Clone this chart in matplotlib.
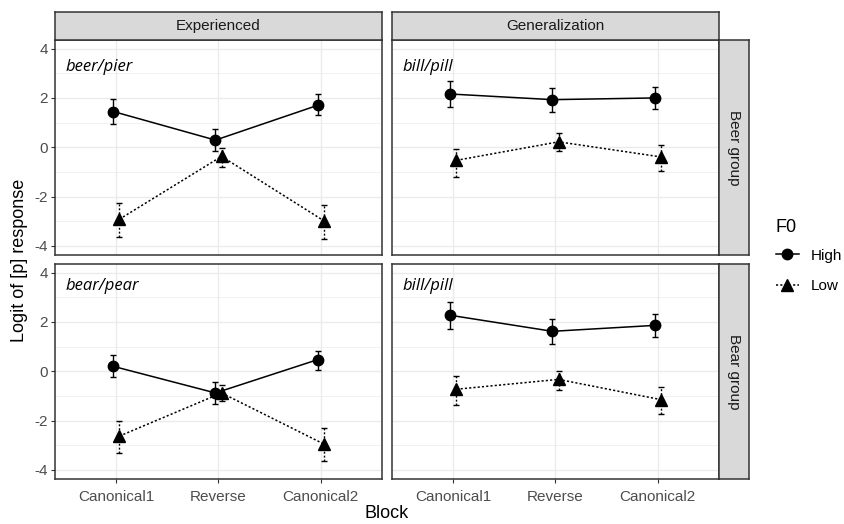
import numpy as np
import matplotlib
matplotlib.use('Agg')
from matplotlib import pyplot as plt
from matplotlib.lines import Line2D

plt.rcParams['font.family'] = ['Liberation Sans', 'DejaVu Sans']

blocks = ['Canonical1', 'Reverse', 'Canonical2']
tasks = ['Experienced', 'Generalization']
groups = ['Beer group', 'Bear group']
word_pairs = [['beer/pier', 'bill/pill'], ['bear/pear', 'bill/pill']]

# mean logit, lower and upper CI for each (group, task)
high_mean = {('Beer group', 'Experienced'): [1.45, 0.29, 1.70],
             ('Beer group', 'Generalization'): [2.16, 1.93, 2.00],
             ('Bear group', 'Experienced'): [0.20, -0.88, 0.47],
             ('Bear group', 'Generalization'): [2.27, 1.62, 1.86]}
high_lo = {('Beer group', 'Experienced'): [0.95, -0.16, 1.29],
           ('Beer group', 'Generalization'): [1.62, 1.41, 1.56],
           ('Bear group', 'Experienced'): [-0.24, -1.33, 0.07],
           ('Bear group', 'Generalization'): [1.73, 1.12, 1.40]}
high_hi = {('Beer group', 'Experienced'): [1.96, 0.74, 2.16],
           ('Beer group', 'Generalization'): [2.68, 2.41, 2.45],
           ('Bear group', 'Experienced'): [0.64, -0.45, 0.82],
           ('Bear group', 'Generalization'): [2.81, 2.11, 2.31]}

low_mean = {('Beer group', 'Experienced'): [-2.92, -0.37, -2.98],
            ('Beer group', 'Generalization'): [-0.53, 0.22, -0.39],
            ('Bear group', 'Experienced'): [-2.63, -0.88, -2.95],
            ('Bear group', 'Generalization'): [-0.73, -0.33, -1.15]}
low_lo = {('Beer group', 'Experienced'): [-3.66, -0.81, -3.71],
          ('Beer group', 'Generalization'): [-1.19, -0.15, -0.97],
          ('Bear group', 'Experienced'): [-3.33, -1.22, -3.63],
          ('Bear group', 'Generalization'): [-1.36, -0.75, -1.74]}
low_hi = {('Beer group', 'Experienced'): [-2.27, -0.05, -2.33],
          ('Beer group', 'Generalization'): [-0.08, 0.59, 0.08],
          ('Bear group', 'Experienced'): [-2.00, -0.54, -2.31],
          ('Bear group', 'Generalization'): [-0.20, 0.00, -0.64]}

W, H = 845, 524
fig = plt.figure(figsize=(W / 100, H / 100), dpi=100)

border = '#333333'
grid_c = '#EBEBEB'
txt_c = '#4D4D4D'
dotted = (0, (1.4, 1.4))

panel_x = [55, 392]
panel_w = 327
panel_y = [40, 264]
panel_h = 215
x = np.arange(1, 4)
dodge = 0.03


def fbox(px, py, pw, ph):
    return [px / W, 1 - (py + ph) / H, pw / W, ph / H]


for r, grp in enumerate(groups):
    for c, task in enumerate(tasks):
        ax = fig.add_axes(fbox(panel_x[c], panel_y[r], panel_w, panel_h))
        key = (grp, task)
        ax.set_xlim(0.4, 3.6)
        ax.set_ylim(-4.37, 4.35)
        ax.set_yticks([-4, -2, 0, 2, 4])
        ax.set_yticks([-3, -1, 1, 3], minor=True)
        ax.set_xticks(x)
        ax.grid(True, which='major', color=grid_c, lw=1.0, zorder=0)
        ax.grid(True, which='minor', axis='y', color=grid_c, lw=0.5, zorder=0)
        ax.set_axisbelow(True)
        for s in ax.spines.values():
            s.set_color(border)
            s.set_linewidth(1.1)
        ax.tick_params(which='major', length=3, width=0.8, color=border,
                       labelcolor=txt_c, labelsize=11, pad=2)
        ax.tick_params(which='minor', length=0)
        if c == 0:
            ax.set_yticklabels(['-4', '-2', '0', '2', '4'])
        else:
            ax.tick_params(axis='y', which='major', length=0, labelleft=False)
        if r == 1:
            ax.set_xticklabels(blocks)
            ax.tick_params(axis='x', pad=5)
        else:
            ax.tick_params(axis='x', length=0, labelbottom=False)

        # high F0
        hm = np.array(high_mean[key])
        xs = x - dodge
        ax.errorbar(xs, hm, yerr=[hm - np.array(high_lo[key]), np.array(high_hi[key]) - hm],
                    fmt='none', ecolor='black', elinewidth=1.0, capsize=2.2,
                    capthick=1.0, zorder=3)
        ax.plot(xs, hm, color='black', lw=1.1, marker='o', ms=7.5, zorder=4)

        # low F0
        lm = np.array(low_mean[key])
        xs = x + dodge
        eb = ax.errorbar(xs, lm, yerr=[lm - np.array(low_lo[key]), np.array(low_hi[key]) - lm],
                         fmt='none', ecolor='black', elinewidth=1.0, capsize=2.2,
                         capthick=1.0, zorder=3)
        for lc in eb[2]:
            lc.set_linestyle(dotted)
        ax.plot(xs, lm, color='black', lw=1.1, ls=dotted, marker='^', ms=8.5,
                zorder=4)

        ty = 3.25 if r == 0 else 3.47
        ax.text(0.5, ty, word_pairs[r][c], style='italic', fontsize=12,
                family=['Open Sans', 'DejaVu Sans'], ha='left', va='center',
                color='black')

# top strips
for c, task in enumerate(tasks):
    sax = fig.add_axes(fbox(panel_x[c], 12, panel_w, 28))
    sax.set_facecolor('#D9D9D9')
    sax.set_xticks([])
    sax.set_yticks([])
    for s in sax.spines.values():
        s.set_color(border)
        s.set_linewidth(1.1)
    sax.text(0.5, 0.5, task, ha='center', va='center', fontsize=11,
             color='#1A1A1A', transform=sax.transAxes)

# right strips
for r, grp in enumerate(groups):
    sax = fig.add_axes(fbox(719, panel_y[r], 30, panel_h))
    sax.set_facecolor('#D9D9D9')
    sax.set_xticks([])
    sax.set_yticks([])
    for s in sax.spines.values():
        s.set_color(border)
        s.set_linewidth(1.1)
    sax.text(0.5, 0.5, grp, ha='center', va='center', fontsize=11,
             rotation=-90, color='#1A1A1A', transform=sax.transAxes)

fig.text(387 / W, 1 - 514 / H, 'Block', ha='center', va='center', fontsize=13)
fig.text(20 / W, 1 - 260 / H, 'Logit of [p] response', ha='center',
         va='center', rotation=90, fontsize=13)

handles = [Line2D([], [], color='black', lw=1.1, marker='o', ms=7.5),
           Line2D([], [], color='black', lw=1.1, ls=dotted, marker='^', ms=8.5)]
leg = fig.legend(handles, ['High', 'Low'], title='F0', loc='upper left',
                 bbox_to_anchor=(776 / W, 1 - 219 / H), frameon=False,
                 fontsize=11, title_fontsize=13, handlelength=1.5,
                 handletextpad=0.75, labelspacing=1.1, borderpad=0,
                 borderaxespad=0)
leg._legend_box.align = 'left'
leg._legend_box.sep = 9

plt.savefig('out.png', dpi=100)
